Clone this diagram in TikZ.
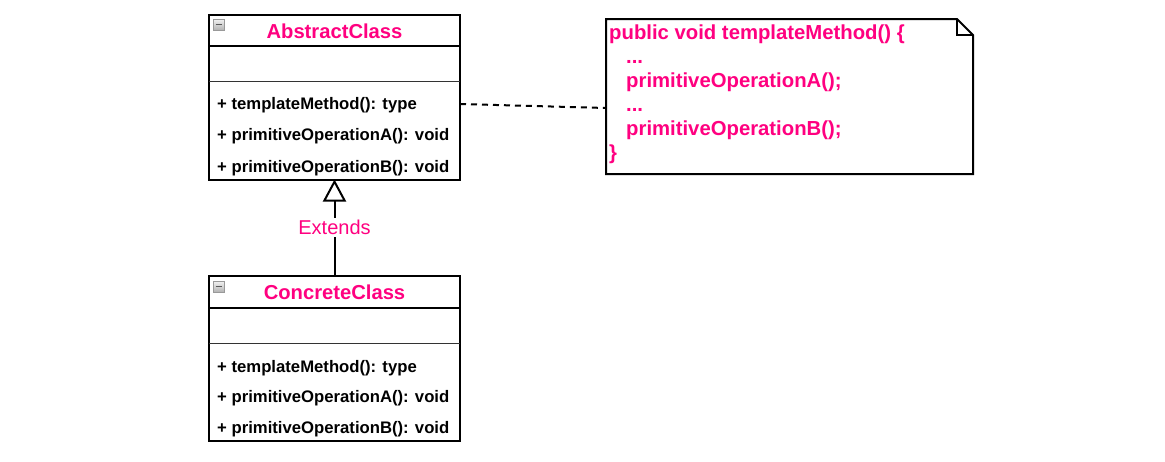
\documentclass[tikz,border=0pt]{standalone}
\usepackage{fontspec}
\setmainfont{Liberation Sans}
\usetikzlibrary{arrows.meta}
\definecolor{umlpink}{RGB}{255,0,128}
\tikzset{
  classbox/.style={draw=black, line width=2pt, fill=white, minimum width=251pt, minimum height=165pt, outer sep=0pt, inner sep=0pt},
  classname/.style={font=\fontsize{20.2}{24}\selectfont\bfseries, text=umlpink, inner sep=0pt},
  member/.style={font=\fontsize{16.7}{20}\selectfont\bfseries, text=black, anchor=west, inner sep=0pt},
  notetext/.style={font=\fontsize{20.3}{24}\selectfont\bfseries, text=umlpink, anchor=base west, inner sep=0pt},
  headrule/.style={line width=2pt, draw=black},
  attrrule/.style={line width=1pt, draw=black!80},
  minusicon/.style={draw=black!40, line width=0.8pt, top color=black!5, bottom color=black!30, minimum size=11pt, inner sep=0pt, outer sep=0pt},
  extends/.style={line width=2pt, -{Triangle[open, length=22pt, width=23pt, line width=2pt]}},
  elabel/.style={font=\fontsize{20}{24}\selectfont, text=umlpink, fill=white, inner sep=2pt},
  notelink/.style={line width=2pt, dash pattern=on 6pt off 5pt},
  noteshape/.style={minimum width=367pt, minimum height=155pt, outer sep=0pt, inner sep=0pt}
}
\begin{document}
\begin{tikzpicture}[x=1pt, y=-1pt]
\useasboundingbox (0,0) rectangle (1165,461);

% Abstract class
\node[classbox] (abs) at (334.5,97) {};
\draw[headrule] (abs.west |- 0,46) -- (abs.east |- 0,46);
\draw[attrrule] (abs.west |- 0,81.5) -- (abs.east |- 0,81.5);
\node[minusicon] (absicon) at (218.5,24.5) {};
\draw[line width=1.3pt, black!65] ([xshift=-3pt]absicon.center) -- ([xshift=3pt]absicon.center);
\node[classname] (absname) at (334.5,31.5) {AbstractClass};
\node[member] (a1) at (217,105.5) {+ templateMethod(): type};
\node[member] (a2) at (217,136.5) {+ primitiveOperationA(): void};
\node[member] (a3) at (217,168) {+ primitiveOperationB(): void};

% Concrete class
\node[classbox] (conc) at (334.5,358.5) {};
\draw[headrule] (conc.west |- 0,307.5) -- (conc.east |- 0,307.5);
\draw[attrrule] (conc.west |- 0,343) -- (conc.east |- 0,343);
\node[minusicon] (conicon) at (218.5,286.5) {};
\draw[line width=1.3pt, black!65] ([xshift=-3pt]conicon.center) -- ([xshift=3pt]conicon.center);
\node[classname] (conname) at (334.5,292.5) {ConcreteClass};
\node[member] (c1) at (217,368) {+ templateMethod(): type};
\node[member] (c2) at (217,398.5) {+ primitiveOperationA(): void};
\node[member] (c3) at (217,429.5) {+ primitiveOperationB(): void};

% Generalization
\draw[extends] (conc.north) -- node[elabel, pos=0.5] (ext) {Extends} (abs.south);

% Note
\node[noteshape] (note) at (789.5,96.5) {};
\draw[line width=2pt, fill=white, line join=miter]
  (note.north west) -- ([xshift=-16pt]note.north east) -- ([yshift=-16pt]note.north east)
  -- (note.south east) -- (note.south west) -- cycle;
\draw[line width=2pt, line join=miter]
  ([xshift=-16pt]note.north east) -- ([xshift=-16pt,yshift=-16pt]note.north east) -- ([yshift=-16pt]note.north east);
\node[notetext] (n1) at (609,39.5) {public void templateMethod() \{};
\node[notetext] (n2) at (626,63.5) {...};
\node[notetext] (n3) at (626,87.5) {primitiveOperationA();};
\node[notetext] (n4) at (626,111.5) {...};
\node[notetext] (n5) at (626,135.5) {primitiveOperationB();};
\node[notetext] (n6) at (609,159.5) {\}};

% Note link
\draw[notelink] (abs.east |- 0,104) -- ([yshift=-11.5pt]note.west);
\end{tikzpicture}
\end{document}
